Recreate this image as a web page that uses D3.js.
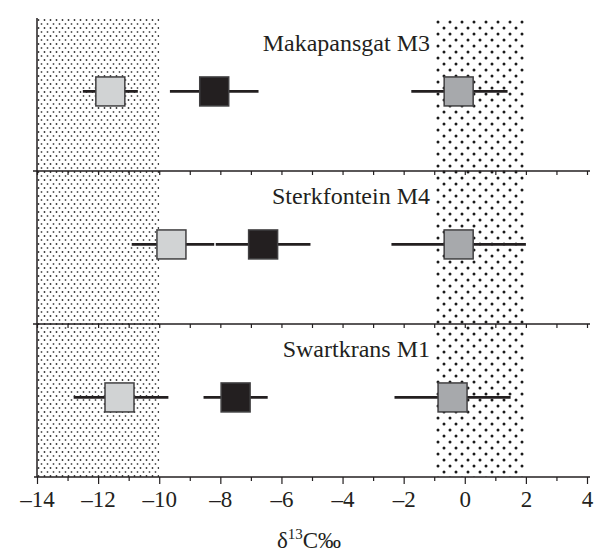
<!DOCTYPE html>
<html>
<head>
<meta charset="utf-8">
<script src="https://cdn.jsdelivr.net/npm/d3@7"></script>
<style>
  body { margin: 0; background: #fff; }
  svg { display: block; font-family: "Liberation Serif", "DejaVu Serif", serif; }
</style>
</head>
<body>
<svg width="594" height="556"></svg>
<script>
// sites, top to bottom
var sites = ["Makapansgat M3", "Sterkfontein M4", "Swartkrans M1"];

// light grey squares
var browserMean = [-11.6, -9.6, -11.3];
var browserLow  = [-12.5, -10.9, -12.8];
var browserHigh = [-10.7, -8.2, -9.7];

// black squares
var homininMean = [-8.2, -6.6, -7.5];
var homininLow  = [-9.65, -8.15, -8.55];
var homininHigh = [-6.75, -5.05, -6.45];

// dark grey squares
var grazerMean = [-0.2, -0.2, -0.4];
var grazerLow  = [-1.75, -2.4, -2.3];
var grazerHigh = [1.4, 2.0, 1.5];

// shaded ranges (C3 / C4)
var c3Range = [-14, -10];
var c4Range = [-1, 2];

var xTicks = d3.range(-14, 5, 1);

var svg = d3.select("svg");
var x = d3.scaleLinear().domain([-14, 4]).range([37, 587]);
var y = d3.scaleBand().domain(sites).range([18, 477]);
var plotTop = y.range()[0], plotBottom = y.range()[1];

var series = [
  {name: "browser", mean: browserMean, low: browserLow, high: browserHigh, fill: "#d1d3d4"},
  {name: "hominin", mean: homininMean, low: homininLow, high: homininHigh, fill: "#231f20"},
  {name: "grazer", mean: grazerMean, low: grazerLow, high: grazerHigh, fill: "#a7a9ac"}
];

// dot patterns
var defs = svg.append("defs");
var fine = defs.append("pattern")
  .attr("id", "fine").attr("patternUnits", "userSpaceOnUse")
  .attr("x", 37).attr("y", 18)
  .attr("width", 6).attr("height", 8);
fine.append("circle").attr("cx", 1.5).attr("cy", 2).attr("r", 0.9).attr("fill", "#333");
fine.append("circle").attr("cx", 4.5).attr("cy", 6).attr("r", 0.9).attr("fill", "#555");

var coarse = defs.append("pattern")
  .attr("id", "coarse").attr("patternUnits", "userSpaceOnUse")
  .attr("x", 436).attr("y", 20)
  .attr("width", 12).attr("height", 12);
coarse.append("circle").attr("cx", 2).attr("cy", 2).attr("r", 1.5).attr("fill", "#1a1a1a");
coarse.append("circle").attr("cx", 8).attr("cy", 8).attr("r", 1.5).attr("fill", "#1a1a1a");

svg.append("rect")
  .attr("x", x(c3Range[0])).attr("y", plotTop)
  .attr("width", x(c3Range[1]) - x(c3Range[0])).attr("height", plotBottom - plotTop)
  .attr("fill", "url(#fine)");

svg.append("rect")
  .attr("x", x(c4Range[0])).attr("y", plotTop)
  .attr("width", x(c4Range[1]) - x(c4Range[0])).attr("height", plotBottom - plotTop)
  .attr("fill", "url(#coarse)");

// dividers between panels, with small ticks
sites.slice(1).forEach(function(s) {
  var g = svg.append("g")
    .attr("transform", "translate(0," + y(s) + ")")
    .call(d3.axisBottom(x).tickValues(xTicks).tickSize(4).tickSizeOuter(0).tickFormat(""));
  g.select(".domain").remove();
  g.selectAll(".tick line").attr("stroke", "#231f20").attr("stroke-width", 1.2);
  g.append("line")
    .attr("x1", x.range()[0] - 4).attr("x2", x.range()[1] + 3)
    .attr("stroke", "#231f20").attr("stroke-width", 1.5);
});

// bottom axis
var xAxis = svg.append("g")
  .attr("transform", "translate(0," + plotBottom + ")")
  .call(d3.axisBottom(x).tickValues(xTicks).tickSizeOuter(0)
    .tickFormat(function(d) { return d % 2 === 0 ? String(d).replace("-", "\u2013") : ""; }));
xAxis.select(".domain").remove();
xAxis.append("line")
  .attr("x1", x.range()[0] - 3).attr("x2", x.range()[1] + 3)
  .attr("stroke", "#231f20").attr("stroke-width", 1.5);
xAxis.selectAll(".tick line")
  .attr("stroke", "#231f20").attr("stroke-width", 1.2)
  .attr("y2", function(d) { return d % 2 === 0 ? 7 : 4; });
xAxis.selectAll(".tick text")
  .attr("y", 14).attr("dy", "0.71em")
  .attr("font-family", "Liberation Serif, serif")
  .attr("font-size", 23).attr("fill", "#231f20");

// left axis line
svg.append("line")
  .attr("x1", x.range()[0]).attr("x2", x.range()[0])
  .attr("y1", plotTop).attr("y2", plotBottom)
  .attr("stroke", "#231f20").attr("stroke-width", 1.5);

// axis title
var title = svg.append("text")
  .attr("x", (x.range()[0] + x.range()[1]) / 2 - 3)
  .attr("y", 548)
  .attr("text-anchor", "middle")
  .attr("font-size", 23).attr("fill", "#231f20");
title.append("tspan").text("\u03B4");
title.append("tspan").attr("font-size", 15).attr("dy", -9).text("13");
title.append("tspan").attr("dy", 9).text("C\u2030");

// markers
var size = 29;
function cy(i) { return y(sites[i]) + y.bandwidth() * 0.48; }

series.forEach(function(s) {
  var g = svg.append("g");
  g.selectAll("line")
    .data(sites)
    .enter().append("line")
      .attr("x1", function(d, i) { return x(s.low[i]); })
      .attr("x2", function(d, i) { return x(s.high[i]); })
      .attr("y1", function(d, i) { return cy(i); })
      .attr("y2", function(d, i) { return cy(i); })
      .attr("stroke", "#231f20").attr("stroke-width", 2.8);
  g.selectAll("rect")
    .data(sites)
    .enter().append("rect")
      .attr("x", function(d, i) { return x(s.mean[i]) - size / 2; })
      .attr("y", function(d, i) { return cy(i) - size / 2; })
      .attr("width", size).attr("height", size)
      .attr("fill", s.fill)
      .attr("stroke", "#414042").attr("stroke-width", 1.5);
});

// panel labels
svg.selectAll(".site")
  .data(sites)
  .enter().append("text")
    .attr("class", "site")
    .attr("x", 430)
    .attr("y", function(d) { return y(d) + 33; })
    .attr("text-anchor", "end")
    .attr("font-size", 24).attr("fill", "#231f20")
    .text(function(d) { return d; });
</script>
</body>
</html>
